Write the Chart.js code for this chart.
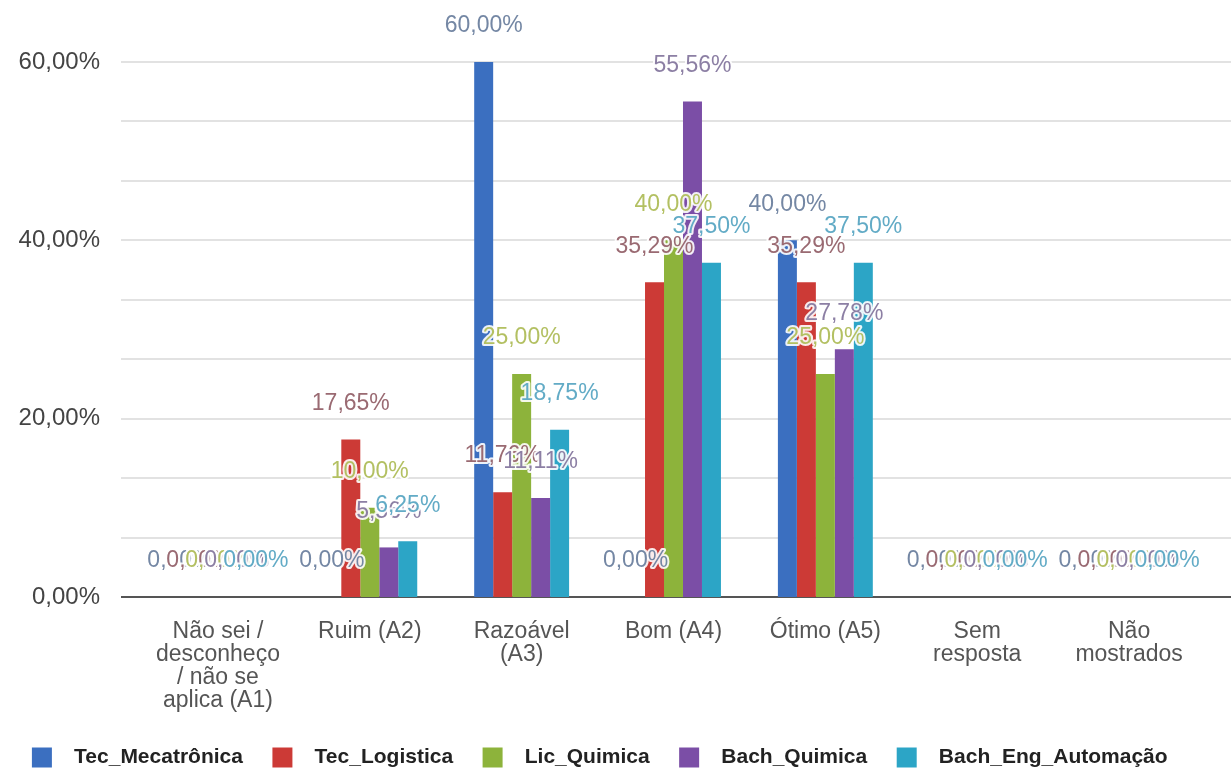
<!DOCTYPE html>
<html>
<head>
<meta charset="utf-8">
<script src="https://cdn.jsdelivr.net/npm/chart.js@4.4.1/dist/chart.umd.min.js"></script>
<style>
	html, body { margin: 0; padding: 0; background: #fff; }
	#wrap { width: 1231px; height: 772px; position: relative; }
</style>
</head>
<body>
<div id="wrap"><canvas id="avalChart"></canvas></div>
<script>
// categorias (eixo x)
const categories = [
	["Não sei /", "desconheço", "/ não se", "aplica (A1)"],
	"Ruim (A2)",
	["Razoável", "(A3)"],
	"Bom (A4)",
	"Ótimo (A5)",
	["Sem", "resposta"],
	["Não", "mostrados"]
];

// séries (%)
const tecMecatronica = [0, 0, 60.00, 0, 40.00, 0, 0];
const tecLogistica = [0, 17.65, 11.76, 35.29, 35.29, 0, 0];
const licQuimica = [0, 10.00, 25.00, 40.00, 25.00, 0, 0];
const bachQuimica = [0, 5.56, 11.11, 55.56, 27.78, 0, 0];
const bachEngAutomacao = [0, 6.25, 18.75, 37.50, 37.50, 0, 0];

const seriesNames = ["Tec_Mecatrônica", "Tec_Logistica", "Lic_Quimica", "Bach_Quimica", "Bach_Eng_Automação"];
const barColors = ["#3b6fc0", "#cc3a36", "#8db33b", "#7b4ea6", "#2ca5c6"];
const labelColors = ["#7487a4", "#9a6a72", "#b3c062", "#8c7fa4", "#62abc6"];

// ticks do eixo y
const yMin = 0;
const yMax = 60;
const yStep = 20 / 3;

const FONT = "'Liberation Sans', Arial, sans-serif";

function fmtPct(v) {
	return v.toFixed(2).replace(".", ",") + "%";
}

// linhas de grade mais largas que a área das categorias
const gridPlugin = {
	id: "wideGrid",
	beforeDatasetsDraw(chart) {
		const ctx = chart.ctx;
		const y = chart.scales.y;
		const left = chart.chartArea.left - 21;
		const right = chart.width;
		ctx.save();
		y.ticks.forEach(t => {
			const py = Math.round(y.getPixelForValue(t.value));
			ctx.beginPath();
			ctx.strokeStyle = "#e2e2e2";
			ctx.lineWidth = 2;
			ctx.moveTo(left, py);
			ctx.lineTo(right, py);
			ctx.stroke();
		});
		const py0 = Math.round(y.getPixelForValue(0));
		ctx.beginPath();
		ctx.strokeStyle = "#555";
		ctx.lineWidth = 2;
		ctx.moveTo(left, py0);
		ctx.lineTo(right, py0);
		ctx.stroke();
		ctx.restore();
	}
};

// rótulos de valor acima das barras
const valueLabels = {
	id: "valueLabels",
	afterDatasetsDraw(chart) {
		const ctx = chart.ctx;
		ctx.save();
		ctx.font = "23px " + FONT;
		ctx.textAlign = "center";
		ctx.textBaseline = "middle";
		ctx.lineJoin = "round";
		chart.data.datasets.forEach((ds, i) => {
			const meta = chart.getDatasetMeta(i);
			meta.data.forEach((bar, j) => {
				const txt = fmtPct(ds.data[j]);
				const ty = bar.y - 36;
				ctx.strokeStyle = "rgba(255,255,255,0.9)";
				ctx.lineWidth = 4;
				ctx.strokeText(txt, bar.x, ty);
				ctx.fillStyle = labelColors[i];
				ctx.fillText(txt, bar.x, ty);
			});
		});
		ctx.restore();
	}
};

const allSeries = [tecMecatronica, tecLogistica, licQuimica, bachQuimica, bachEngAutomacao];

const ctx = document.getElementById("avalChart");

window.avalChart = new Chart(ctx, {
	type: "bar",
	data: {
		labels: categories,
		datasets: allSeries.map((d, i) => ({
			label: seriesNames[i],
			data: d,
			backgroundColor: barColors[i],
			borderWidth: 0,
			categoryPercentage: 0.625,
			barPercentage: 1.0
		}))
	},
	options: {
		responsive: true,
		maintainAspectRatio: false,
		animation: false,
		layout: {
			padding: { left: 12, right: 26, top: 62, bottom: -6 }
		},
		plugins: {
			legend: {
				position: "bottom",
				labels: {
					boxWidth: 20,
					boxHeight: 20,
					padding: 12,
					color: "#222",
					font: { family: FONT, size: 21, weight: "bold" },
					generateLabels(chart) {
						const items = Chart.defaults.plugins.legend.labels.generateLabels(chart);
						// espaços para imitar o espaçamento da legenda original
						items.forEach(it => { it.text = "  " + it.text + "   "; it.lineWidth = 0; });
						return items;
					}
				}
			},
			tooltip: { enabled: false },
			title: { display: false }
		},
		scales: {
			x: {
				grid: { display: false, drawTicks: false },
				border: { display: false },
				ticks: {
					autoSkip: false,
					maxRotation: 0,
					minRotation: 0,
					padding: 23,
					color: "#555",
					font: { family: FONT, size: 23, lineHeight: 1.0 }
				}
			},
			y: {
				min: yMin,
				max: yMax,
				grid: { display: false, drawTicks: false },
				border: { display: false },
				afterFit(scale) { scale.width = 130; },
				ticks: {
					stepSize: yStep,
					padding: 42,
					color: "#444",
					font: { family: FONT, size: 24 },
					callback(v) {
						const r = v / 20;
						if (Math.abs(r - Math.round(r)) > 1e-6) return "";
						return fmtPct(Math.round(v));
					}
				}
			}
		}
	},
	plugins: [gridPlugin, valueLabels]
});
</script>
</body>
</html>
